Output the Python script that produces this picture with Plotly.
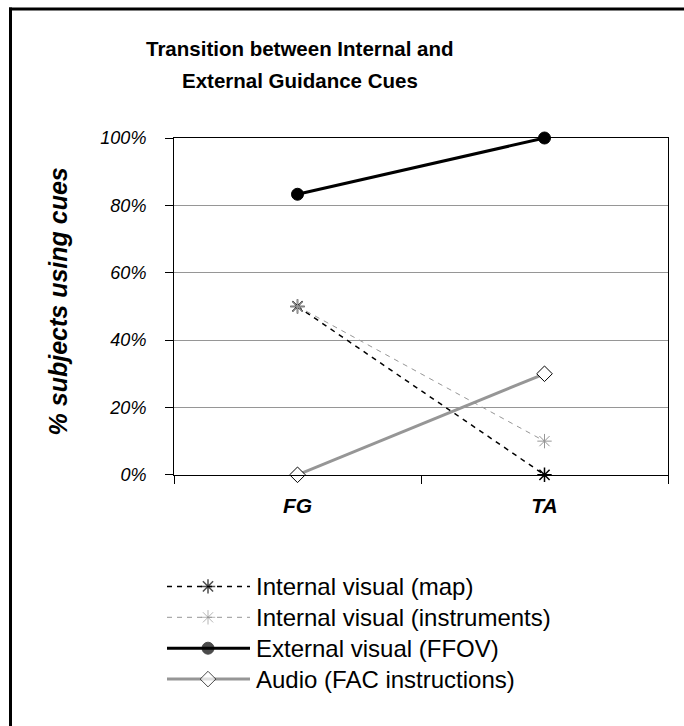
import plotly.graph_objects as go

# ---------------- data ----------------
categories = ["FG", "TA"]
series_names = [
    "Internal visual (map)",
    "Internal visual (instruments)",
    "External visual (FFOV)",
    "Audio (FAC instructions)",
]
map_vals = [0.50, 0.00]
instruments_vals = [0.50, 0.10]
ffov_vals = [0.833, 1.00]
audio_vals = [0.00, 0.30]
y_ticks = [0, 0.2, 0.4, 0.6, 0.8, 1.0]

# ---------------- styles ----------------
FONT = "Arial, 'Liberation Sans', sans-serif"
GRAY = "#969696"
styles = [
    dict(line=dict(color="black", width=1.5, dash="5px,5px"),
         marker=dict(symbol="asterisk-open", size=12, color="black", line=dict(color="black", width=1.5))),
    dict(line=dict(color=GRAY, width=1, dash="5px,5px"),
         marker=dict(symbol="asterisk-open", size=12, color=GRAY, line=dict(color=GRAY, width=1))),
    dict(line=dict(color="black", width=3),
         marker=dict(symbol="circle", size=12, color="black", line=dict(color="black", width=1))),
    dict(line=dict(color=GRAY, width=3),
         marker=dict(symbol="diamond", size=12, color="white", line=dict(color="black", width=1))),
]
values = [map_vals, instruments_vals, ffov_vals, audio_vals]

W, H = 684, 726
ML, MR, MT, MB = 150, 16, 138, 20
PW, PH = W - ML - MR, H - MT - MB


def px_x(px):
    return (px - ML) / PW


def px_y(py):
    return (H - MB - py) / PH


fig = go.Figure()

for name, vals, st in zip(series_names, values, styles):
    fig.add_trace(go.Scatter(
        x=categories, y=vals, name=name, mode="lines+markers",
        line=st["line"], marker=st["marker"], showlegend=False,
        xaxis="x", yaxis="y", cliponaxis=False,
    ))

# ---------------- manual legend (long line samples) ----------------
LEG_X0, LEG_X1 = 167, 400
leg_rows = [588, 619, 650, 681]
for name, st, ry in zip(series_names, styles, leg_rows):
    mk = dict(st["marker"])
    fig.add_trace(go.Scatter(
        x=[167, 208, 250], y=[ry, ry, ry], mode="lines+markers",
        line=st["line"], marker=dict(mk, size=[0, mk["size"], 0]),
        showlegend=False, xaxis="x2", yaxis="y2", hoverinfo="skip", cliponaxis=False,
    ))
    fig.add_annotation(x=254, y=ry, xref="x2", yref="y2", text=name, showarrow=False,
                       xanchor="left", yanchor="middle",
                       font=dict(family=FONT, size=24, color="black"))

# ---------------- titles ----------------
fig.add_annotation(x=px_x(300), y=px_y(48), xref="paper", yref="paper",
                   text="<b>Transition between Internal and</b>", showarrow=False,
                   xanchor="center", yanchor="middle",
                   font=dict(family=FONT, size=20.5, color="black"))
fig.add_annotation(x=px_x(300), y=px_y(80), xref="paper", yref="paper",
                   text="<b>External Guidance Cues</b>", showarrow=False,
                   xanchor="center", yanchor="middle",
                   font=dict(family=FONT, size=20.5, color="black"))
fig.add_annotation(x=px_x(58), y=px_y(302), xref="paper", yref="paper",
                   text="<b><i>% subjects using cues</i></b>", showarrow=False,
                   textangle=-90, xanchor="center", yanchor="middle",
                   font=dict(family=FONT, size=25, color="black"))

# ---------------- outer frame (left & top) ----------------
fig.add_shape(type="line", xref="paper", yref="paper",
              x0=px_x(10.5), x1=px_x(10.5), y0=px_y(7), y1=px_y(740),
              line=dict(color="black", width=3))
fig.add_shape(type="line", xref="paper", yref="paper",
              x0=px_x(9), x1=px_x(700), y0=px_y(8.5), y1=px_y(8.5),
              line=dict(color="black", width=3))

fig.update_layout(
    width=W, height=H,
    margin=dict(l=ML, r=MR, t=MT, b=MB),
    paper_bgcolor="white", plot_bgcolor="white",
    showlegend=False,
    font=dict(family=FONT, color="black"),
    xaxis=dict(
        domain=[px_x(174), px_x(668)],
        type="category", range=[-0.5, 1.5],
        tickson="boundaries", ticks="outside", ticklen=8, tickcolor="black", tickwidth=1,
        showline=True, linecolor="black", linewidth=1, mirror=True,
        showgrid=False, zeroline=False,
        tickfont=dict(family=FONT, size=21, color="black", weight="bold", style="italic"),
        ticklabelstandoff=12,
    ),
    yaxis=dict(
        domain=[px_y(476), px_y(138)],
        range=[0, 1], tickvals=y_ticks, tickformat=".0%",
        ticks="outside", ticklen=8, tickcolor="black", tickwidth=1,
        showline=True, linecolor="black", linewidth=1, mirror=True,
        showgrid=True, gridcolor=GRAY, gridwidth=1, zeroline=False,
        tickfont=dict(family=FONT, size=18, color="black", style="italic"),
        ticklabelstandoff=15,
    ),
    xaxis2=dict(domain=[px_x(LEG_X0), px_x(LEG_X1)], range=[LEG_X0, LEG_X1],
                visible=False, anchor="y2", fixedrange=True),
    yaxis2=dict(domain=[px_y(700), px_y(570)], range=[700, 570],
                visible=False, anchor="x2", fixedrange=True),
)

fig.write_html("out.html")
